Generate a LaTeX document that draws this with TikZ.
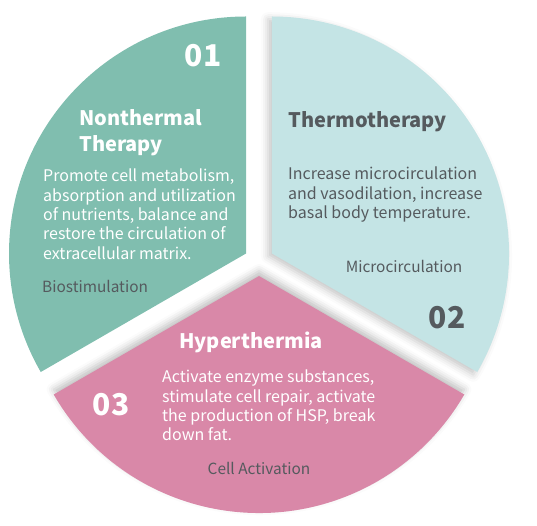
\documentclass[tikz,border=0pt]{standalone}
\usepackage{fontspec}
\setmainfont{Noto Sans CJK SC}
\usetikzlibrary{shadows.blur}
\definecolor{sagegreen}{HTML}{80BEAF}
\definecolor{paleblue}{HTML}{C4E4E5}
\definecolor{rosepink}{HTML}{D988A8}
\definecolor{slategray}{HTML}{555A5E}
\tikzset{
    pie/.style={x=1pt, y=1pt},
    sector/.style={draw=none},
    % soft shadow in the gaps between the slices
    gapshadow/.style={blur shadow={shadow xshift=#1, shadow blur radius=7pt, shadow opacity=22}},
    number/.style={inner sep=0pt, font=\fontsize{30}{30}\selectfont\bfseries},
    heading/.style={inner sep=0pt, align=left, font=\fontsize{20}{26}\selectfont\bfseries},
    body/.style={inner sep=0pt, align=left, font=\fontsize{16}{19.3}\selectfont},
    tag/.style={inner sep=0pt, text=slategray, font=\fontsize{15.4}{18}\selectfont},
}
\newcommand{\pierad}{237}

\begin{document}
\begin{tikzpicture}[pie]
    \useasboundingbox (0,0) rectangle (537,525);
    \coordinate (c) at (259,264);
    \coordinate (cg) at ([shift={(150:15)}]c);
    \coordinate (cb) at ([shift={(30:15)}]c);
    \coordinate (cp) at ([shift={(270:15)}]c);

    % slices
    \fill[sector, sagegreen] (cg) -- ++(90:\pierad) arc[start angle=90, end angle=210, radius=\pierad] -- cycle;
    \fill[sector, paleblue, gapshadow={-4pt}] (cb) -- ++(-30:\pierad) arc[start angle=-30, end angle=90, radius=\pierad] -- cycle;
    \fill[sector, rosepink, blur shadow={shadow xshift=0pt, shadow yshift=5pt, shadow blur radius=7pt, shadow opacity=25}]
        (cp) -- ++(210:\pierad) arc[start angle=210, end angle=330, radius=\pierad] -- cycle;

    % 01
    \node[number, text=white] (num1) at (203,469) {01};
    \node[heading, text=white, anchor=north west] (head1) at (79,416) {Nonthermal\\Therapy};
    \node[body, text=white, anchor=north west] (text1) at (43,356)
        {Promote cell metabolism,\\absorption and utilization\\of nutrients, balance and\\restore the circulation of\\extracellular matrix.};
    \node[tag, anchor=west] (tag1) at (42,239) {Biostimulation};

    % 02
    \node[heading, text=slategray, anchor=north west] (head2) at (288,414) {Thermotherapy};
    \node[body, text=slategray, anchor=north west] (text2) at (288,358)
        {Increase microcirculation\\and vasodilation, increase\\basal body temperature.};
    \node[tag] (tag2) at (404,259) {Microcirculation};
    \node[number, text=slategray] (num2) at (447,207) {02};

    % 03
    \node[heading, text=white] (head3) at (251,183) {Hyperthermia};
    \node[body, text=white, anchor=north west] (text3) at (162,155)
        {Activate enzyme substances,\\stimulate cell repair, activate\\the production of HSP, break\\down fat.};
    \node[number, text=white] (num3) at (111,120) {03};
    \node[tag] (tag3) at (259,57) {Cell Activation};
\end{tikzpicture}
\end{document}
